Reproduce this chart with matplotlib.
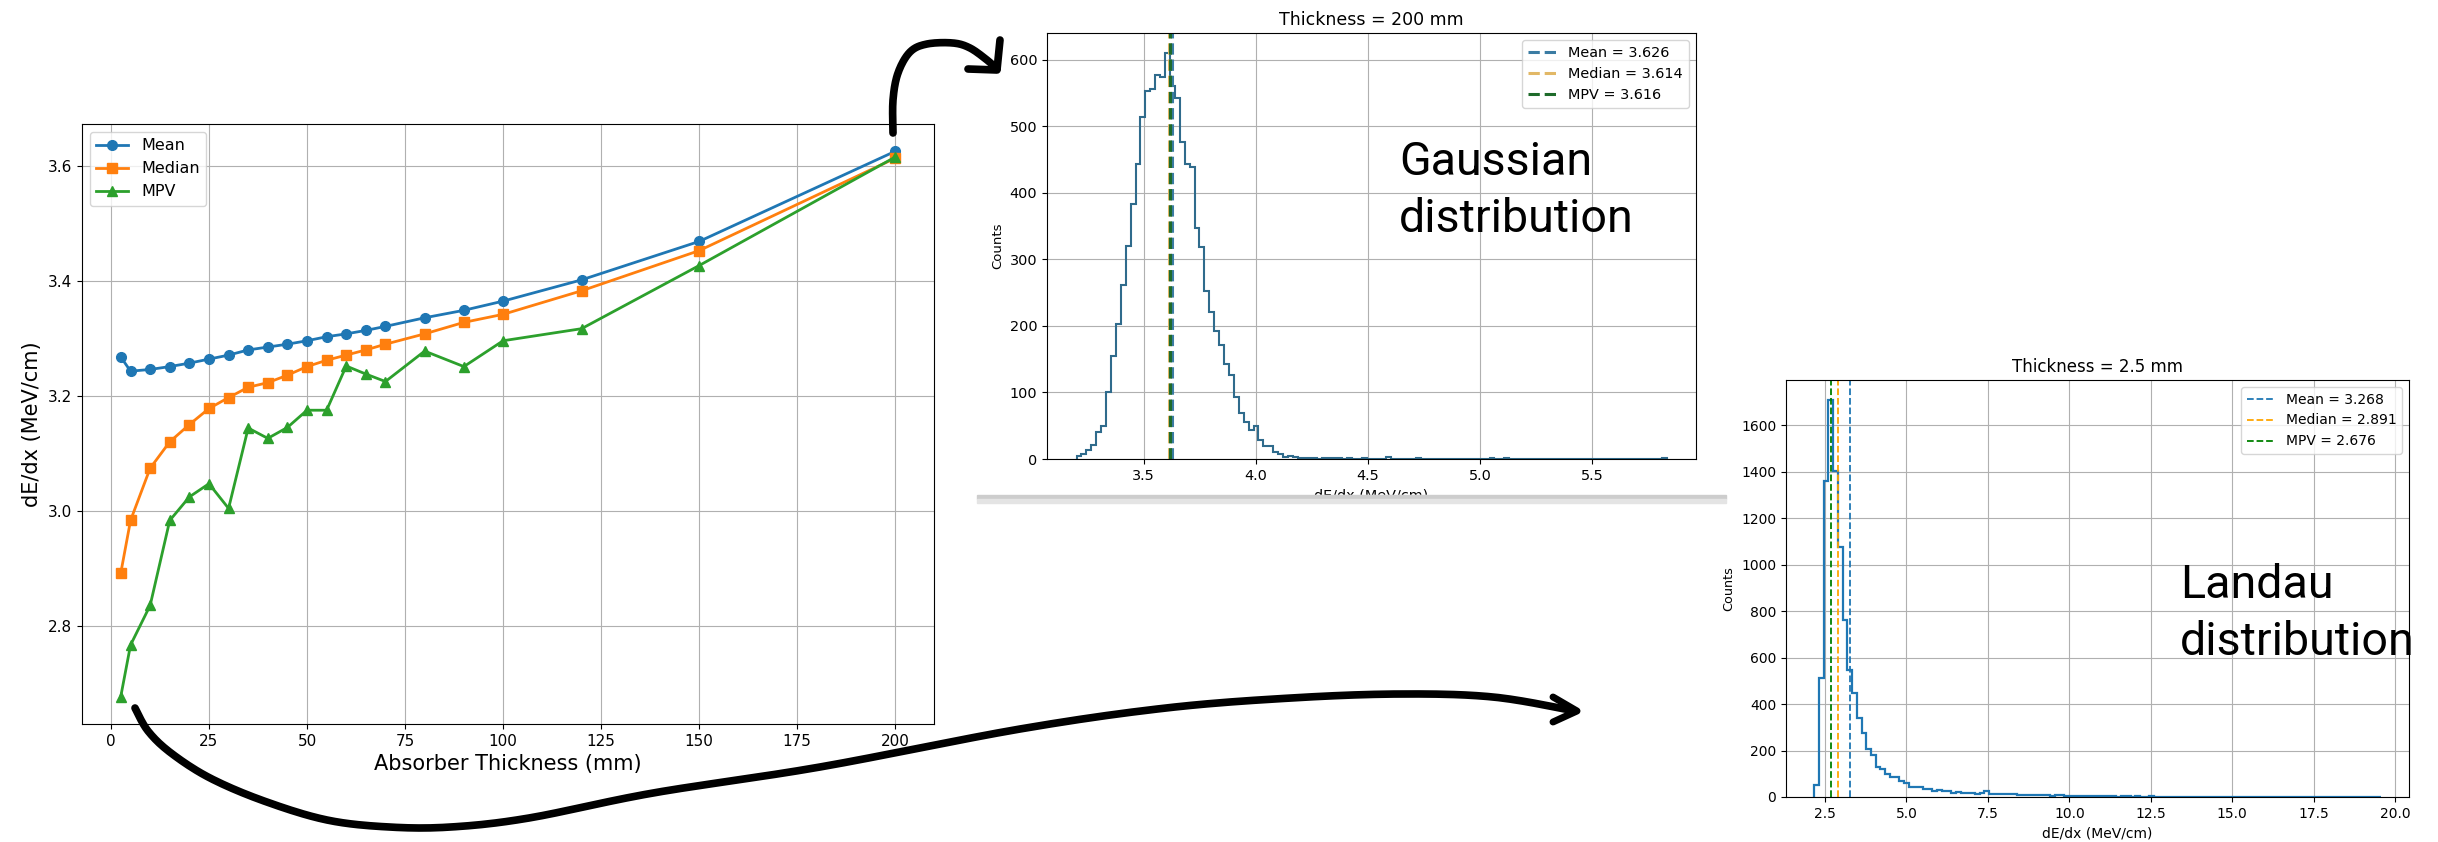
import numpy as np
import matplotlib.pyplot as plt
from matplotlib.lines import Line2D
from matplotlib.patches import Rectangle

# dE/dx estimators against absorber thickness
thickness = [2.5, 5, 10, 15, 20, 25, 30, 35, 40, 45, 50, 55, 60, 65, 70,
             80, 90, 100, 120, 150, 200]
mean_dedx = [3.268, 3.243, 3.246, 3.251, 3.257, 3.264, 3.271, 3.280, 3.285,
             3.290, 3.296, 3.303, 3.308, 3.314, 3.321, 3.336, 3.349, 3.365,
             3.402, 3.469, 3.626]
median_dedx = [2.891, 2.983, 3.074, 3.120, 3.150, 3.178, 3.197, 3.215, 3.223,
               3.236, 3.251, 3.262, 3.271, 3.280, 3.290, 3.308, 3.328, 3.342,
               3.383, 3.453, 3.614]
mpv_dedx = [2.676, 2.766, 2.835, 2.983, 3.024, 3.047, 3.004, 3.144, 3.126,
            3.145, 3.175, 3.175, 3.252, 3.238, 3.225, 3.278, 3.251, 3.296,
            3.317, 3.427, 3.616]

# histogram for 200 mm (120 bins)
range_200 = (3.200, 5.832)
counts_200 = [5, 8, 14, 21, 40, 49, 100, 155, 203, 261,
              320, 384, 444, 514, 554, 557, 578, 574, 610, 561,
              543, 476, 444, 439, 347, 319, 252, 221, 193, 171,
              143, 126, 93, 69, 55, 44, 50, 29, 20, 20,
              11, 7, 3, 5, 3, 2, 1, 2, 1, 0,
              1, 2, 1, 1, 0, 1, 0, 0, 1, 0,
              0, 0, 0, 3, 0, 0, 0, 0, 0, 2,
              0, 0, 0, 0, 0, 0, 0, 0, 0, 0,
              0, 0, 0, 0, 1, 0, 0, 1, 0, 0,
              0, 0, 0, 0, 0, 0, 0, 0, 0, 0,
              0, 0, 0, 0, 0, 0, 0, 0, 0, 0,
              0, 0, 0, 0, 0, 0, 0, 0, 0, 2]
stats_200 = {'Mean': 3.626, 'Median': 3.614, 'MPV': 3.616}

# histogram for 2.5 mm (120 bins)
range_25 = (2.17, 19.56)
counts_25 = [50, 512, 1359, 1710, 1402, 1077, 760, 546, 446, 341,
             277, 208, 181, 129, 119, 97, 86, 86, 69, 59,
             43, 43, 43, 36, 33, 26, 30, 26, 24, 19,
             22, 19, 18, 16, 15, 17, 24, 14, 12, 12,
             13, 14, 11, 10, 9, 10, 8, 9, 7, 8,
             6, 10, 7, 5, 6, 5, 4, 5, 4, 3,
             4, 3, 3, 4, 2, 3, 3, 2, 3, 2,
             2, 3, 2, 1, 2, 2, 1, 2, 1, 2,
             1, 2, 1, 1, 2, 1, 2, 1, 1, 2,
             1, 0, 1, 1, 0, 1, 2, 1, 0, 1,
             1, 1, 0, 0, 1, 0, 0, 0, 1, 1,
             0, 0, 1, 0, 0, 0, 0, 0, 0, 2]
stats_25 = {'Mean': 3.268, 'Median': 2.891, 'MPV': 2.676}

W, H = 2438, 842
fig = plt.figure(figsize=(W / 100, H / 100), dpi=100)


def px_axes(l, t, r, b):
    return fig.add_axes([l / W, 1 - b / H, (r - l) / W, (b - t) / H])


def fx(x):
    return x / W


def fy(y):
    return 1 - y / H


# ---- main summary plot
ax = px_axes(82, 124, 934, 724)
ax.plot(thickness, mean_dedx, marker='o', lw=2, ms=7, label='Mean')
ax.plot(thickness, median_dedx, marker='s', lw=2, ms=7, label='Median')
ax.plot(thickness, mpv_dedx, marker='^', lw=2, ms=7, label='MPV')
ax.set_xlabel('Absorber Thickness (mm)', fontsize=15)
ax.set_ylabel('dE/dx (MeV/cm)', fontsize=15)
ax.tick_params(labelsize=11)
ax.grid(True)
ax.legend(loc='upper left', fontsize=11.5)


def histo(ax, counts, rng, stats, cols, title, lw_h, lw_v, fs):
    edges = np.linspace(rng[0], rng[1], len(counts) + 1)
    ax.hist(edges[:-1], bins=edges, weights=counts, histtype='step',
            color=cols[0], lw=lw_h)
    for (name, val), c in zip(stats.items(), cols[1:]):
        ax.axvline(val, color=c, ls='--', lw=lw_v, label=f'{name} = {val:.3f}')
    ax.set_title(title, fontsize=fs * 1.2)
    ax.set_xlabel('dE/dx (MeV/cm)', fontsize=fs)
    ax.set_ylabel('Counts', fontsize=fs * 0.92)
    ax.tick_params(labelsize=fs)
    ax.grid(True)
    ax.legend(loc='upper right', fontsize=fs)


ax_g = px_axes(1047, 33, 1696, 459)
histo(ax_g, counts_200, range_200, stats_200,
      ['#2f6b8c', '#3b7ca3', '#e2b866', '#1e6b2a'],
      'Thickness = 200 mm', 1.5, 2.2, 10.4)

ax_l = px_axes(1786, 380, 2409, 797)
histo(ax_l, counts_25, range_25, stats_25,
      ['#1f77b4', '#1f77b4', 'orange', 'green'],
      'Thickness = 2.5 mm', 1.6, 1.3, 10)

# screenshot edge under the 200 mm panel
fig.add_artist(Rectangle((fx(977), fy(520)), fx(749), 25 / H,
                         transform=fig.transFigure, color='white', zorder=5))
fig.add_artist(Rectangle((fx(977), fy(499)), fx(749), 4 / H,
                         transform=fig.transFigure, color='#cdcdcd', zorder=6))
fig.add_artist(Rectangle((fx(977), fy(503)), fx(749), 4 / H,
                         transform=fig.transFigure, color='#e4e4e4', zorder=6))

# annotations
big = dict(family='Roboto', fontsize=33.5, color='black', va='baseline')
fig.text(fx(1399), fy(175), 'Gaussian', **big)
fig.text(fx(1399), fy(232), 'distribution', **big)
fig.text(fx(2180), fy(598), 'Landau', **big)
fig.text(fx(2180), fy(655), 'distribution', **big)


def smooth(pts, n=16):
    p = np.array(pts, float)
    p = np.vstack([p[0], p, p[-1]])
    out = []
    for i in range(1, len(p) - 2):
        p0, p1, p2, p3 = p[i - 1], p[i], p[i + 1], p[i + 2]
        for t in np.linspace(0, 1, n, endpoint=False):
            out.append(0.5 * ((2 * p1) + (-p0 + p2) * t
                              + (2 * p0 - 5 * p1 + 4 * p2 - p3) * t ** 2
                              + (-p0 + 3 * p1 - 3 * p2 + p3) * t ** 3))
    out.append(p[-2])
    return np.array(out)


def stroke(pts, lw=5.5, curve=True):
    p = smooth(pts) if curve else np.array(pts, float)
    fig.add_artist(Line2D(fx(p[:, 0]), fy(p[:, 1]), transform=fig.transFigure,
                          color='black', lw=lw, solid_capstyle='round',
                          solid_joinstyle='round', zorder=10))


# top arrow: 200 mm point -> Gaussian panel
stroke([(893, 133), (893, 100), (898, 73), (910, 52), (927, 44), (953, 43),
        (970, 48), (987, 60), (997, 69)])
stroke([(968, 69), (997, 70), (1000, 40)], curve=False)

# bottom arrow: 2.5 mm point -> Landau panel
stroke([(135, 708), (148, 731), (171, 753), (210, 778), (264, 801),
        (327, 820), (389, 827), (451, 827), (529, 818), (653, 793),
        (820, 767), (1020, 729), (1166, 708), (1291, 698), (1400, 694),
        (1493, 697), (1575, 711)])
stroke([(1553, 697), (1577, 711), (1553, 722)], lw=5, curve=False)

fig.savefig('out.png', dpi=100)
